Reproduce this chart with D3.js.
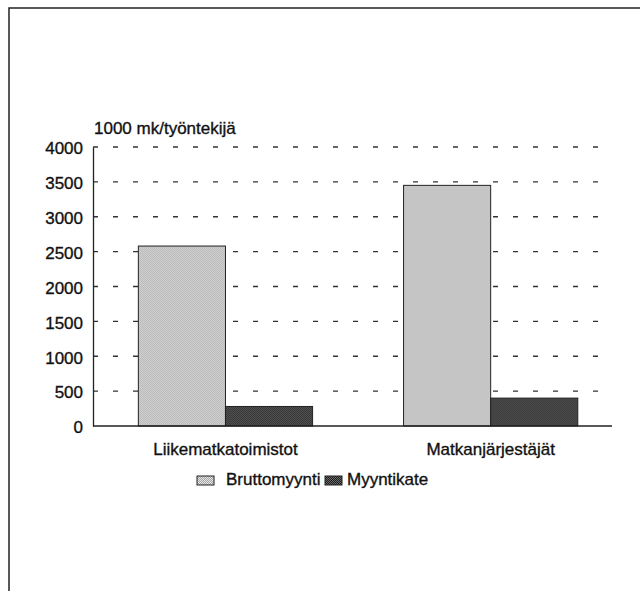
<!DOCTYPE html>
<html>
<head>
<meta charset="utf-8">
<script src="https://cdn.jsdelivr.net/npm/d3@7"></script>
<style>
  body { margin: 0; background: #fff; }
  text { font-family: "Liberation Sans", Arial, sans-serif; fill: #111; stroke: #111; stroke-width: 0.35; }
</style>
</head>
<body>
<svg id="chart" width="640" height="591"></svg>
<script>
// Henkilöstökohtainen myynti, 1000 mk/työntekijä
const categories = ["Liikematkatoimistot", "Matkanjärjestäjät"];
const seriesNames = ["Bruttomyynti", "Myyntikate"];
const bruttomyynti = [2580, 3450];
const myyntikate = [280, 400];
const yTicks = [0, 500, 1000, 1500, 2000, 2500, 3000, 3500, 4000];
const yTitle = "1000 mk/työntekijä";

const svg = d3.select("#chart");

// dithered fills like the printed original
const defs = svg.append("defs");
function dither(id, bg, dot) {
    const p = defs.append("pattern")
        .attr("id", id)
        .attr("width", 2).attr("height", 2)
        .attr("patternUnits", "userSpaceOnUse");
    p.append("rect").attr("width", 2).attr("height", 2).attr("fill", bg);
    p.append("rect").attr("width", 1).attr("height", 1).attr("fill", dot);
    p.append("rect").attr("x", 1).attr("y", 1).attr("width", 1).attr("height", 1).attr("fill", dot);
}
dither("light", "#e6e6e6", "#a4a4a4");
dither("dark", "#6a6a6a", "#1e1e1e");
const fills = ["url(#light)", "url(#dark)"];

// frame
svg.append("path")
    .attr("d", "M9,591 V8 H640")
    .attr("fill", "none")
    .attr("stroke", "#222")
    .attr("stroke-width", 1.5);

const margin = { left: 93, right: 612, top: 147, bottom: 426 };

const y = d3.scaleLinear()
    .domain([0, 4000])
    .range([margin.bottom, margin.top]);

const x0 = d3.scaleBand()
    .domain(categories)
    .range([margin.left, margin.right])
    .paddingInner(0.343)
    .paddingOuter(0.15)
    .align(0.57);

const x1 = d3.scaleBand()
    .domain(seriesNames)
    .range([0, x0.bandwidth()])
    .padding(0);

// dashed gridlines
svg.append("g")
    .selectAll("line")
    .data(yTicks.filter(d => d > 0))
    .join("line")
    .attr("x1", margin.left)
    .attr("x2", margin.right)
    .attr("y1", d => y(d))
    .attr("y2", d => y(d))
    .attr("stroke", "#333")
    .attr("stroke-width", 1.3)
    .attr("stroke-dasharray", "5,15");

// bars
const data = categories.map((c, i) => ({ cat: c, vals: [bruttomyynti[i], myyntikate[i]] }));
svg.append("g")
    .selectAll("g")
    .data(data)
    .join("g")
    .attr("transform", d => `translate(${x0(d.cat)},0)`)
    .selectAll("rect")
    .data(d => d.vals.map((v, j) => ({ name: seriesNames[j], v, j })))
    .join("rect")
    .attr("x", d => x1(d.name))
    .attr("y", d => y(d.v))
    .attr("width", x1.bandwidth())
    .attr("height", d => y(0) - y(d.v))
    .attr("fill", d => fills[d.j])
    .attr("stroke", "#222")
    .attr("stroke-width", 1);

// y axis
const yAxis = svg.append("g")
    .attr("transform", `translate(${margin.left},0)`)
    .call(d3.axisLeft(y).tickValues(yTicks).tickSize(0).tickPadding(10).tickFormat(d3.format("d")));
yAxis.select(".domain").attr("stroke", "#222").attr("stroke-width", 1.3);
yAxis.selectAll("text")
    .style("font-family", "'Liberation Sans', Arial, sans-serif")
    .style("font-size", "17px")
    .attr("fill", "#111")
    .attr("dy", "0.4em");

// x baseline
svg.append("line")
    .attr("x1", margin.left).attr("x2", margin.right)
    .attr("y1", y(0)).attr("y2", y(0))
    .attr("stroke", "#222").attr("stroke-width", 1.3);

// category labels
svg.append("g")
    .selectAll("text")
    .data(categories)
    .join("text")
    .attr("x", d => x0(d) + x0.bandwidth() / 2)
    .attr("y", 455)
    .attr("text-anchor", "middle")
    .style("font-size", "17px")
    .text(d => d);

// y title
svg.append("text")
    .attr("x", 94)
    .attr("y", 134)
    .style("font-size", "17px")
    .text(yTitle);

// legend
const legendX = [197, 325];
const legend = svg.append("g")
    .selectAll("g")
    .data(seriesNames)
    .join("g")
    .attr("transform", (d, i) => `translate(${legendX[i]},476)`);
legend.append("rect")
    .attr("width", 17).attr("height", 9)
    .attr("fill", (d, i) => fills[i])
    .attr("stroke", "#222");
legend.append("text")
    .attr("x", d => d === "Bruttomyynti" ? 29 : 22)
    .attr("y", 9)
    .style("font-size", "17px")
    .text(d => d);
</script>
</body>
</html>
